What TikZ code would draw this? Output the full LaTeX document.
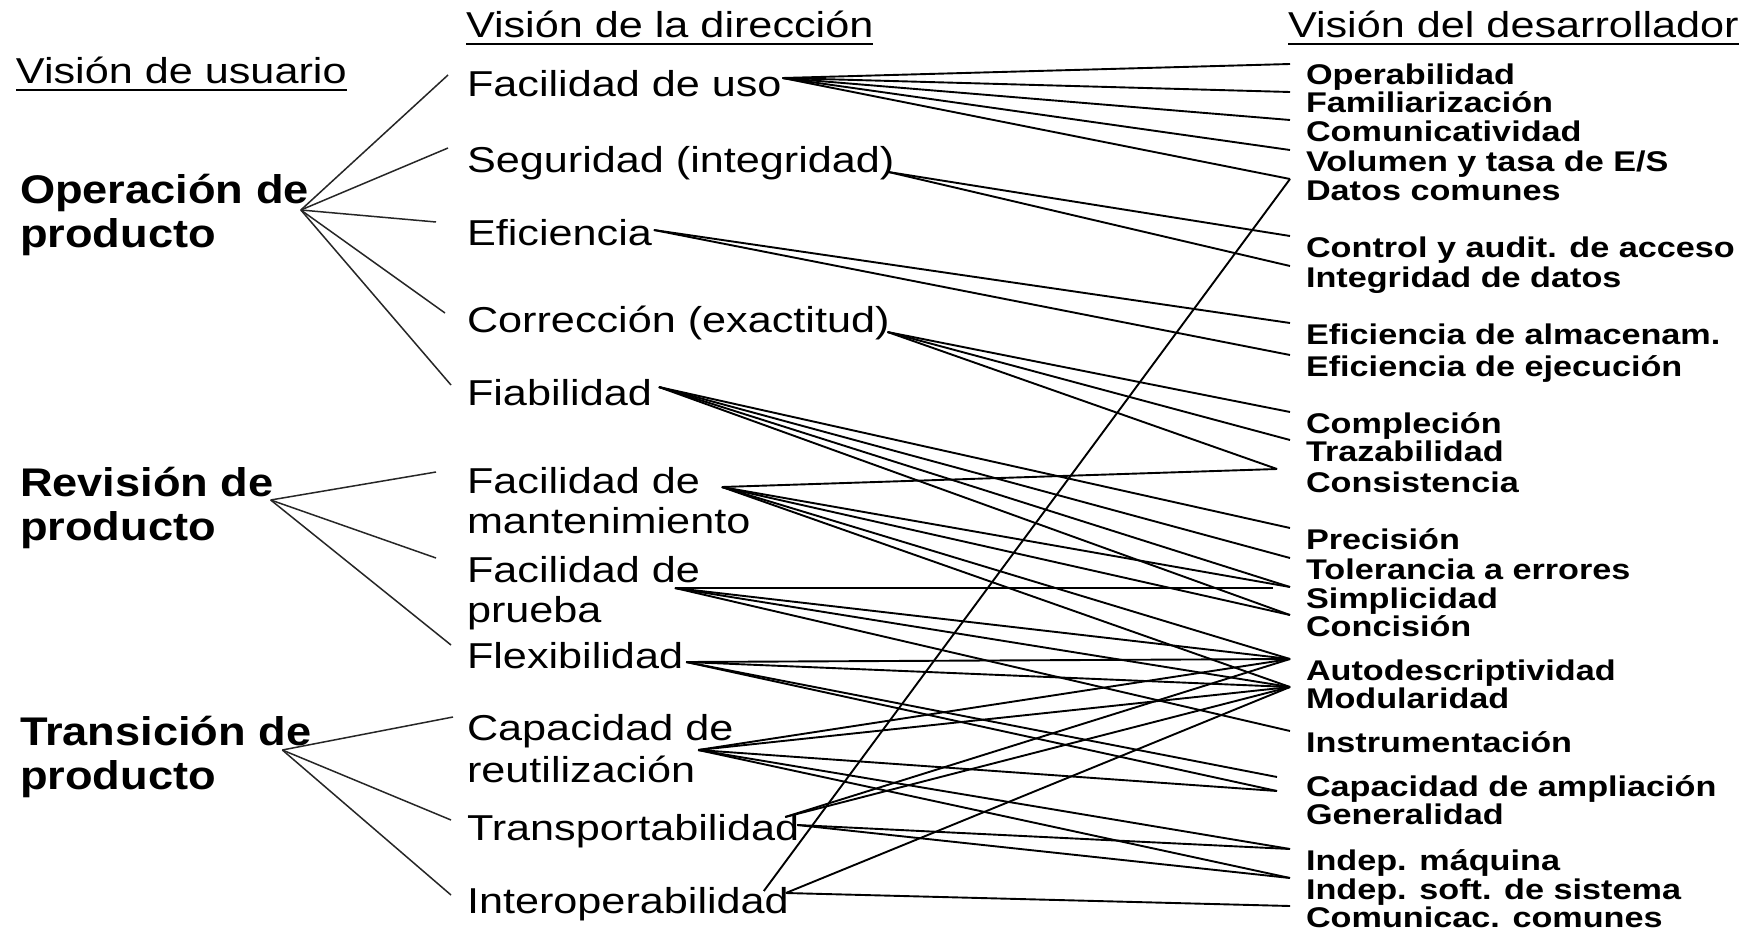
\documentclass[tikz,border=0pt]{standalone}
\usepackage{fontspec}
\setmainfont{Liberation Sans}
\newfontfamily\fmid[FakeStretch=1.2]{Liberation Sans}
\newfontfamily\fleft[FakeStretch=1.13]{Liberation Sans}
\tikzset{
  lbl/.style={inner sep=0pt, outer sep=0pt, anchor=base west},
  hdr/.style={lbl, font=\fmid\fontsize{36}{40}\selectfont},
  usr/.style={lbl, font=\fleft\bfseries\fontsize{40}{44}\selectfont},
  mgt/.style={lbl, font=\fmid\fontsize{36}{40}\selectfont},
  dev/.style={lbl, font=\fmid\bfseries\fontsize{28.5}{30}\selectfont},
  uline/.style={line width=2.8pt},
  lnk/.style={line width=1.5pt, black!85},
  crt/.style={line width=1.9pt},
}
\begin{document}
\begin{tikzpicture}[x=1pt,y=-1pt]
\fill[white] (0,0) rectangle (1760,931);
\useasboundingbox (0,0) rectangle (1760,931);

% headers
\node[hdr] (hUser) at (16,84) {Visión de usuario};
\node[hdr] (hDir) at (466,38) {Visión de la dirección};
\node[hdr] (hDev) at (1288,38) {Visión del desarrollador};
\foreach \h in {hUser,hDir,hDev}
  \draw[uline] ([yshift=-6pt]\h.base west) -- ([yshift=-6pt]\h.base east);

% user view
\node[usr] (lOpA) at (20,203) {Operación de};
\node[usr] (lOpB) at (20,247) {producto};
\node[usr] (lRevA) at (20,496) {Revisión de};
\node[usr] (lRevB) at (20,540) {producto};
\node[usr] (lTrA) at (20,745) {Transición de};
\node[usr] (lTrB) at (20,789) {producto};

% management view
\node[mgt] (mUso) at (467,97) {Facilidad de uso};
\node[mgt] (mSeg) at (467,172) {Seguridad (integridad)};
\node[mgt] (mEf) at (467,245) {Eficiencia};
\node[mgt] (mCorr) at (467,332) {Corrección (exactitud)};
\node[mgt] (mFiab) at (467,405) {Fiabilidad};
\node[mgt] (mMantA) at (467,493) {Facilidad de};
\node[mgt] (mMantB) at (467,533) {mantenimiento};
\node[mgt] (mPrueA) at (467,582) {Facilidad de};
\node[mgt] (mPrueB) at (467,622) {prueba};
\node[mgt] (mFlex) at (467,668) {Flexibilidad};
\node[mgt] (mReutA) at (467,740) {Capacidad de};
\node[mgt] (mReutB) at (467,782) {reutilización};
\node[mgt] (mTrans) at (467,840) {Transportabilidad};
\node[mgt] (mInter) at (467,913) {Interoperabilidad};

% developer view
\node[dev] (rOper) at (1306,85) {Operabilidad};
\node[dev] (rFam) at (1306,113) {Familiarización};
\node[dev] (rCom) at (1306,141) {Comunicatividad};
\node[dev] (rVol) at (1306,171) {Volumen y tasa de E/S};
\node[dev] (rDat) at (1306,200) {Datos comunes};
\node[dev] (rCtrl) at (1306,257) {Control y audit. de acceso};
\node[dev] (rInteg) at (1306,287) {Integridad de datos};
\node[dev] (rEfAlm) at (1306,344) {Eficiencia de almacenam.};
\node[dev] (rEfEj) at (1306,376) {Eficiencia de ejecución};
\node[dev] (rCompl) at (1306,433) {Compleción};
\node[dev] (rTraz) at (1306,461) {Trazabilidad};
\node[dev] (rCons) at (1306,492) {Consistencia};
\node[dev] (rPrec) at (1306,549) {Precisión};
\node[dev] (rTol) at (1306,579) {Tolerancia a errores};
\node[dev] (rSimp) at (1306,608) {Simplicidad};
\node[dev] (rConc) at (1306,636) {Concisión};
\node[dev] (rAuto) at (1306,680) {Autodescriptividad};
\node[dev] (rMod) at (1306,708) {Modularidad};
\node[dev] (rInstr) at (1306,752) {Instrumentación};
\node[dev] (rAmpl) at (1306,796) {Capacidad de ampliación};
\node[dev] (rGen) at (1306,824) {Generalidad};
\node[dev] (rIMaq) at (1306,870) {Indep. máquina};
\node[dev] (rISoft) at (1306,899) {Indep. soft. de sistema};
\node[dev] (rComC) at (1306,927) {Comunicac. comunes};

% ports: left vertices
\coordinate (vOp) at ([shift={(-8pt,-7pt)}]lOpA.base east);
\coordinate (vRev) at ([shift={(-3pt,-4pt)}]lRevA.base east);
\coordinate (vTr) at ([shift={(-29pt,-5pt)}]lTrA.base east);
% management in-ports
\coordinate (iUso) at ([shift={(-19pt,22pt)}]mUso.base west);
\coordinate (iSeg) at ([shift={(-19pt,24pt)}]mSeg.base west);
\coordinate (iEf) at ([shift={(-31pt,23pt)}]mEf.base west);
\coordinate (iCorr) at ([shift={(-22pt,19pt)}]mCorr.base west);
\coordinate (iFiab) at ([shift={(-16pt,20pt)}]mFiab.base west);
\coordinate (iMant) at ([shift={(-31pt,21pt)}]mMantA.base west);
\coordinate (iPrue) at ([shift={(-31pt,24pt)}]mPrueA.base west);
\coordinate (iFlex) at ([shift={(-16pt,23pt)}]mFlex.base west);
\coordinate (iReut) at ([shift={(-14pt,23pt)}]mReutA.base west);
\coordinate (iTrans) at ([shift={(-16pt,20pt)}]mTrans.base west);
\coordinate (iInter) at ([shift={(-16pt,18pt)}]mInter.base west);
% management out-ports
\coordinate (oUso) at ([shift={(1pt,19pt)}]mUso.base east);
\coordinate (oSeg) at ([shift={(-6pt,0pt)}]mSeg.base east);
\coordinate (oEf) at ([shift={(2pt,15pt)}]mEf.base east);
\coordinate (oCorr) at ([shift={(-2pt,0pt)}]mCorr.base east);
\coordinate (oFiab) at ([shift={(7pt,18pt)}]mFiab.base east);
\coordinate (oMant) at ([shift={(22pt,6pt)}]mMantA.base east);
\coordinate (oPrue) at ([shift={(-25pt,-6pt)}]mPrueA.base east);
\coordinate (oFlex) at ([shift={(3pt,6pt)}]mFlex.base east);
\coordinate (oReut) at ([shift={(3pt,32pt)}]mReutB.base east);
\coordinate (oTrans) at ([shift={(-2pt,15pt)}]mTrans.base east);
\coordinate (oTransU) at ([shift={(-14pt,23pt)}]mTrans.base east);
\coordinate (oInter) at ([shift={(-3pt,20pt)}]mInter.base east);
\coordinate (oInterL) at ([shift={(-25pt,22pt)}]mInter.base east);
% developer in-ports
\foreach \n in {Oper,Fam,Com,Vol,Dat,Ctrl,Integ,EfAlm,EfEj,Compl,Traz,Prec,Tol,Simp,Conc,Auto,Mod,Instr,IMaq,ISoft,ComC}
  \coordinate (p\n) at ([shift={(-16pt,21pt)}]r\n.base west);
\coordinate (pCons) at ([shift={(-29pt,23pt)}]rCons.base west);
\coordinate (pAmpl) at ([shift={(-29pt,19pt)}]rAmpl.base west);
\coordinate (pGen) at ([shift={(-29pt,33pt)}]rGen.base west);
\coordinate (pSimpH) at ([shift={(-33pt,20pt)}]rSimp.base west);

% user -> management
\foreach \a/\b in {vOp/iUso,vOp/iSeg,vOp/iEf,vOp/iCorr,vOp/iFiab,
                   vRev/iMant,vRev/iPrue,vRev/iFlex,
                   vTr/iReut,vTr/iTrans,vTr/iInter}
  \draw[lnk] (\a) -- (\b);

% management -> developer
\foreach \a/\b in {oUso/pOper,oUso/pFam,oUso/pCom,oUso/pVol,oUso/pDat,
                   oSeg/pCtrl,oSeg/pInteg,
                   oEf/pEfAlm,oEf/pEfEj,
                   oCorr/pCompl,oCorr/pTraz,oCorr/pCons,
                   oFiab/pPrec,oFiab/pTol,oFiab/pSimp,oFiab/pConc,
                   oMant/pCons,oMant/pSimp,oMant/pConc,oMant/pAuto,oMant/pMod,
                   oPrue/pSimpH,oPrue/pAuto,oPrue/pMod,oPrue/pInstr,
                   oFlex/pAuto,oFlex/pMod,oFlex/pAmpl,oFlex/pGen,
                   oReut/pAuto,oReut/pMod,oReut/pGen,oReut/pIMaq,oReut/pISoft,
                   oTransU/pAuto,oTransU/pMod,oTrans/pIMaq,oTrans/pISoft,
                   oInterL/pDat,oInter/pMod,oInter/pComC}
  \draw[crt] (\a) -- (\b);
\end{tikzpicture}
\end{document}
